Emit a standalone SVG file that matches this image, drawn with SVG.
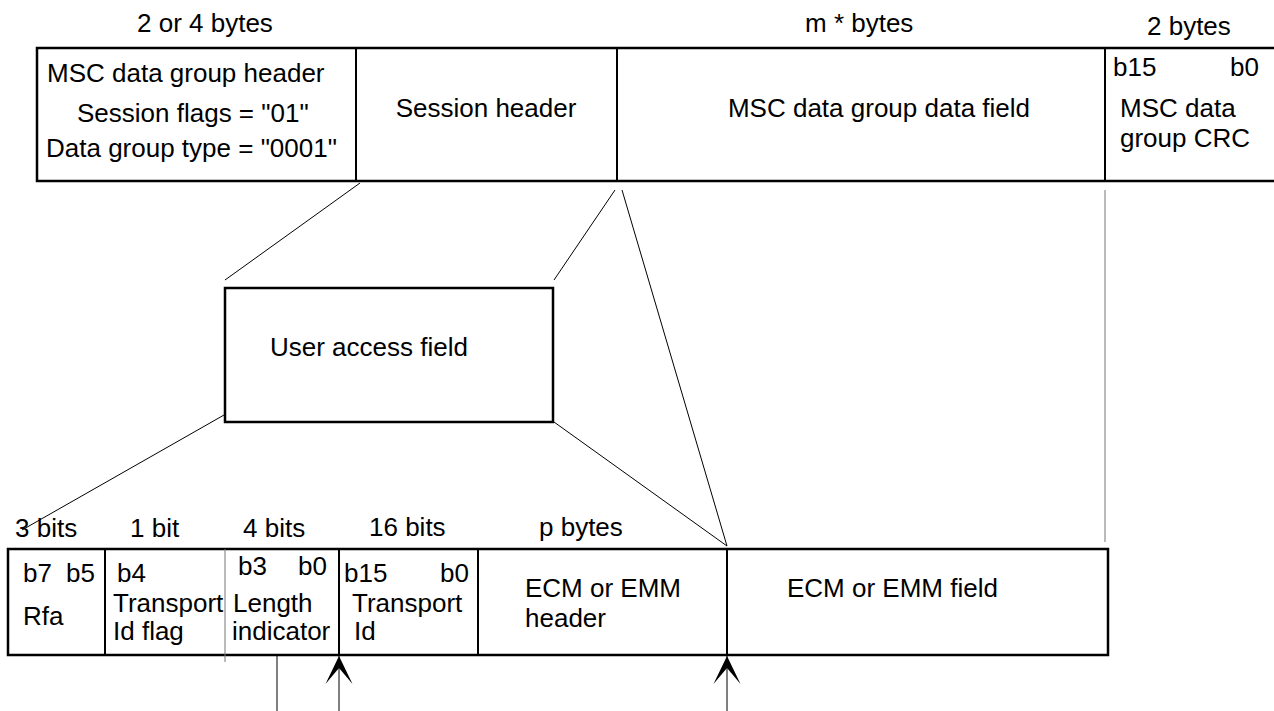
<svg xmlns="http://www.w3.org/2000/svg" width="1274" height="711" viewBox="0 0 1274 711">
<style>
text{font-family:"Liberation Sans",Arial,sans-serif;font-size:26px;fill:#000}
.box{fill:#fff;stroke:#000;stroke-width:2.5}
.div{stroke:#000;stroke-width:2}
.thin{stroke:#000;stroke-width:1;fill:none}
.gray{stroke:#777;stroke-width:1;fill:none}
</style>
<defs>
<marker id="arr" markerUnits="userSpaceOnUse" markerWidth="28" markerHeight="28" refX="28" refY="13.5" orient="auto" viewBox="0 0 28 27">
<path d="M28,13.5 L0,0 L16,13.5 L0,27 Z" fill="#000"/>
</marker>
</defs>
<rect width="1274" height="711" fill="#fff"/>
<g id="size-labels">
<text x="137" y="32">2 or 4 bytes</text>
<text x="805" y="32">m * bytes</text>
<text x="1147" y="35">2 bytes</text>
<text x="15" y="537">3 bits</text>
<text x="130" y="537">1 bit</text>
<text x="243" y="537">4 bits</text>
<text x="369" y="536">16 bits</text>
<text x="539" y="536">p bytes</text>
</g>
<g id="msc-data-group">
<path class="box" d="M1280,48 H37 V181 H1280"/>
<line class="div" x1="356" y1="48" x2="356" y2="181"/>
<line class="div" x1="617" y1="48" x2="617" y2="181"/>
<line class="div" x1="1105" y1="48" x2="1105" y2="181"/>
</g>
<g id="msc-header">
<text x="47" y="82">MSC data group header</text>
<text x="77" y="122">Session flags = "01"</text>
<text x="46" y="157">Data group type = "0001"</text>
</g>
<g id="session-header"><text x="486" y="117" text-anchor="middle">Session header</text></g>
<g id="data-field"><text x="879" y="117" text-anchor="middle">MSC data group data field</text></g>
<g id="crc">
<text x="1113" y="76">b15</text>
<text x="1230" y="76">b0</text>
<text x="1120" y="117">MSC data</text>
<text x="1120" y="147">group CRC</text>
</g>
<g id="user-access-field">
<rect class="box" x="225" y="288" width="328" height="134"/>
<text x="270" y="356">User access field</text>
</g>
<g id="connectors">
<line class="thin" x1="360" y1="183" x2="225" y2="280"/>
<line class="thin" x1="615" y1="190" x2="554" y2="280"/>
<line class="thin" x1="622" y1="190" x2="727" y2="546"/>
<line class="gray" x1="1105" y1="190" x2="1105" y2="542"/>
<line class="thin" x1="224" y1="415" x2="22" y2="530"/>
<line class="thin" x1="554" y1="422" x2="727" y2="546"/>
<line class="thin" x1="277" y1="655" x2="277" y2="711"/>
<line class="thin" x1="339" y1="711" x2="339" y2="656" marker-end="url(#arr)"/>
<line class="thin" x1="727" y1="711" x2="727" y2="656" marker-end="url(#arr)"/>
</g>
<g id="user-access-structure">
<rect class="box" x="8" y="549" width="1100" height="106"/>
<line class="div" x1="105" y1="549" x2="105" y2="655"/>
<line class="gray" x1="225" y1="549" x2="225" y2="662"/>
<line class="div" x1="339" y1="549" x2="339" y2="655"/>
<line class="div" x1="478" y1="549" x2="478" y2="655"/>
<line class="div" x1="727" y1="549" x2="727" y2="655"/>
</g>
<g id="rfa"><text x="23" y="582">b7</text><text x="66" y="582">b5</text><text x="23" y="625">Rfa</text></g>
<g id="transport-id-flag"><text x="117" y="582">b4</text><text x="113" y="612">Transport</text><text x="113" y="640">Id flag</text></g>
<g id="length-indicator"><text x="238" y="575">b3</text><text x="298" y="575">b0</text><text x="233" y="612">Length</text><text x="232" y="640">indicator</text></g>
<g id="transport-id"><text x="344" y="582">b15</text><text x="440" y="582">b0</text><text x="352" y="612">Transport</text><text x="354" y="640">Id</text></g>
<g id="ecm-header"><text x="525" y="597">ECM or EMM</text><text x="525" y="627">header</text></g>
<g id="ecm-field"><text x="787" y="597">ECM or EMM field</text></g>
</svg>
